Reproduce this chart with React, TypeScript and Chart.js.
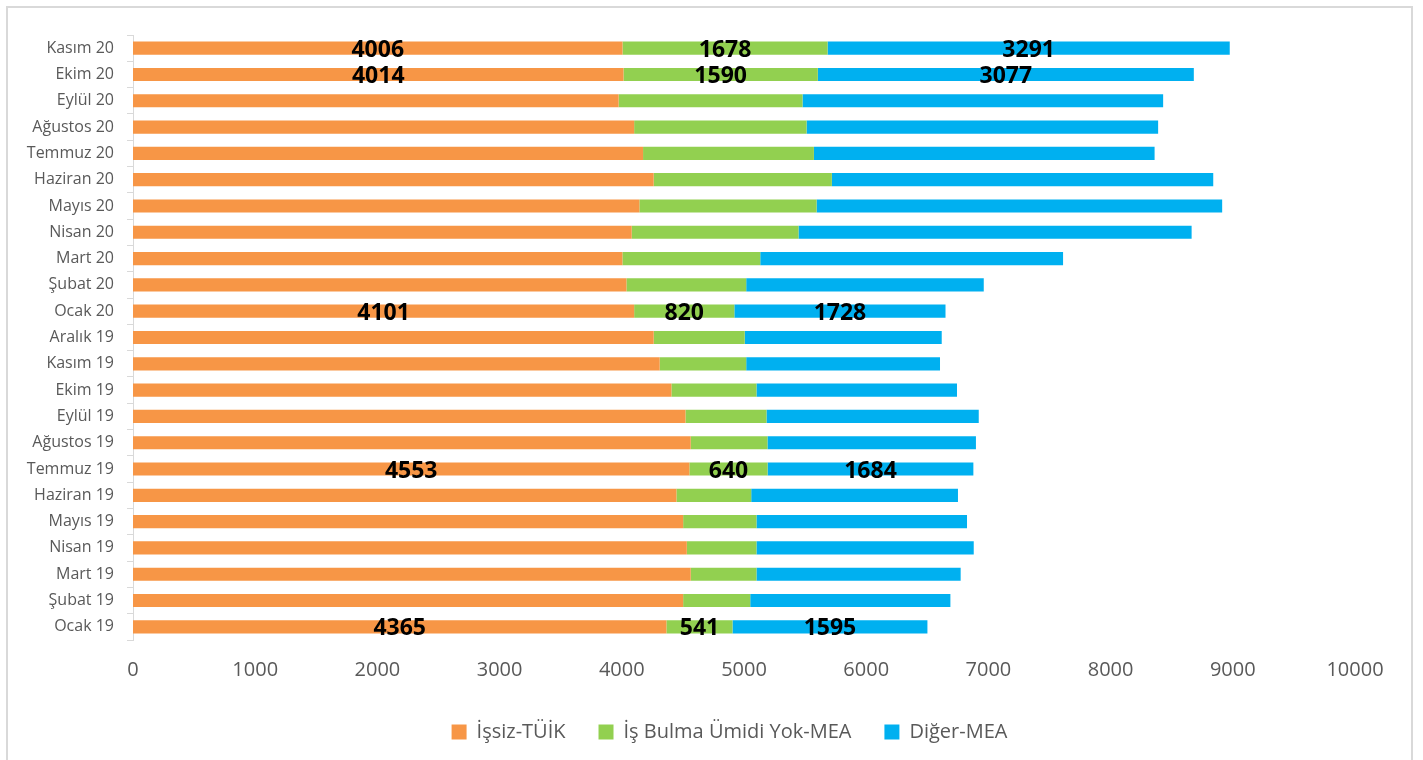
import React, { useEffect, useRef } from "react";
import { Chart, registerables } from "chart.js";

Chart.register(...registerables);

const categories = [
  "Ocak 19", "Şubat 19", "Mart 19", "Nisan 19", "Mayıs 19", "Haziran 19",
  "Temmuz 19", "Ağustos 19", "Eylül 19", "Ekim 19", "Kasım 19", "Aralık 19",
  "Ocak 20", "Şubat 20", "Mart 20", "Nisan 20", "Mayıs 20", "Haziran 20",
  "Temmuz 20", "Ağustos 20", "Eylül 20", "Ekim 20", "Kasım 20",
];

const issizTuik = [
  4365, 4502, 4564, 4532, 4502, 4447, 4553, 4564, 4521, 4406, 4310, 4261,
  4101, 4038, 4005, 4081, 4144, 4261, 4174, 4101, 3974, 4014, 4006,
];

const isBulmaUmidiYok = [
  541, 549, 538, 570, 600, 612, 640, 628, 663, 696, 708, 745,
  820, 980, 1128, 1365, 1450, 1458, 1398, 1411, 1505, 1590, 1678,
];

const digerMea = [
  1595, 1638, 1671, 1778, 1723, 1692, 1684, 1706, 1737, 1641, 1586, 1612,
  1728, 1944, 2478, 3217, 3319, 3121, 2788, 2877, 2951, 3077, 3291,
];

const seriesNames = ["İşsiz-TÜİK", "İş Bulma Ümidi Yok-MEA", "Diğer-MEA"];
const labeledCategories = ["Ocak 19", "Temmuz 19", "Ocak 20", "Ekim 20", "Kasım 20"];

const xTicks = [0, 1000, 2000, 3000, 4000, 5000, 6000, 7000, 8000, 9000, 10000];

const COLORS = ["#F79646", "#92D050", "#00B0F0"];
const FONT = "'Open Sans', 'DejaVu Sans', sans-serif";

const dataLabelPlugin = {
  id: "segmentLabels",
  afterDatasetsDraw(chart: any) {
    const ctx = chart.ctx;
    ctx.save();
    ctx.font = `bold 23px ${FONT}`;
    ctx.fillStyle = "#000000";
    ctx.textAlign = "center";
    ctx.textBaseline = "middle";
    chart.data.datasets.forEach((ds: any, di: number) => {
      const meta = chart.getDatasetMeta(di);
      labeledCategories.forEach((cat) => {
        const idx = categories.indexOf(cat);
        const el = meta.data[idx];
        if (!el) return;
        const { x, base, y } = el.getProps(["x", "base", "y"], true);
        ctx.fillText(String(ds.data[idx]), (x + base) / 2, y + 2);
      });
    });
    ctx.restore();
  },
};

const legendShiftPlugin = {
  id: "legendShift",
  afterLayout(chart: any) {
    if (chart.legend) {
      chart.legend.left += 52;
      chart.legend.right += 52;
    }
  },
};

export default function App() {
  const canvasRef = useRef<HTMLCanvasElement | null>(null);

  useEffect(() => {
    if (!canvasRef.current) return;
    const chart = new Chart(canvasRef.current, {
      type: "bar",
      data: {
        labels: categories,
        datasets: [issizTuik, isBulmaUmidiYok, digerMea].map((d, i) => ({
          label: seriesNames[i],
          data: d,
          backgroundColor: COLORS[i],
          borderWidth: 0,
          barPercentage: 0.5,
          categoryPercentage: 1.0,
        })),
      },
      options: {
        indexAxis: "y",
        animation: false,
        responsive: false,
        devicePixelRatio: 1,
        layout: { padding: { top: 35, right: 68, left: 0, bottom: 8 } },
        plugins: {
          tooltip: { enabled: false },
          legend: {
            position: "bottom",
            labels: {
              boxWidth: 15,
              boxHeight: 15,
              padding: 33,
              color: "#595959",
              font: { family: FONT, size: 20 },
            },
          },
        },
        scales: {
          x: {
            stacked: true,
            min: 0,
            max: 10000,
            afterBuildTicks: (scale: any) => {
              scale.ticks = xTicks.map((v) => ({ value: v }));
            },
            afterFit: (scale: any) => {
              scale.height = 49;
            },
            ticks: {
              color: "#595959",
              font: { family: FONT, size: 20 },
              padding: 18,
              callback: (v: any) => String(v),
            },
            grid: { display: false, drawTicks: false },
            border: { display: false },
          },
          y: {
            stacked: true,
            reverse: true,
            afterFit: (scale: any) => {
              scale.width = 133;
            },
            ticks: {
              color: "#595959",
              font: { family: FONT, size: 16 },
              padding: 13,
            },
            grid: {
              drawOnChartArea: false,
              drawTicks: true,
              tickLength: 6,
              offset: true,
              color: "#d9d9d9",
            },
            border: { display: true, color: "#d9d9d9", width: 1 },
          },
        },
      },
      plugins: [dataLabelPlugin, legendShiftPlugin],
    } as any);
    return () => chart.destroy();
  }, []);

  return (
    <div style={{ position: "fixed", left: 0, top: 0, width: 1423, height: 760, background: "#fff", overflow: "hidden" }}>
      <div
        style={{
          position: "absolute",
          left: 6,
          top: 6,
          width: 1403,
          height: 800,
          border: "2px solid #d9d9d9",
        }}
      />
      <canvas ref={canvasRef} width={1423} height={760} style={{ position: "absolute", left: 0, top: 0 }} />
    </div>
  );
}
